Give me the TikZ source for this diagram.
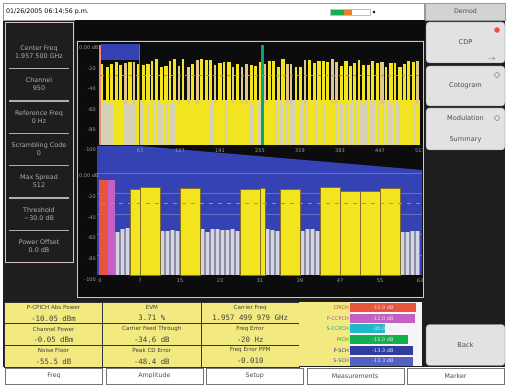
\documentclass[tikz,border=0pt]{standalone}
\usepackage{fontspec}
\setmainfont{DejaVu Sans}
\setmonofont{DejaVu Sans Mono}
\usetikzlibrary{positioning}
\definecolor{saDark}{RGB}{30,30,30}
\definecolor{saBlack}{RGB}{12,12,12}
\definecolor{saFrame}{RGB}{215,195,195}
\definecolor{saText}{RGB}{175,175,175}
\definecolor{saKey}{RGB}{226,226,226}
\definecolor{saYellow}{RGB}{242,228,30}
\definecolor{saPale}{RGB}{242,234,128}
\definecolor{saTan}{RGB}{224,200,140}
\definecolor{saBeige}{RGB}{214,208,180}
\definecolor{saGray}{RGB}{212,212,226}
\definecolor{saGap}{RGB}{140,140,165}
\definecolor{saBlue}{RGB}{52,66,180}
\definecolor{saGrid}{RGB}{100,112,200}
\definecolor{saRed}{RGB}{232,84,60}
\definecolor{saMag}{RGB}{196,96,196}
\definecolor{saCyan}{RGB}{32,184,200}
\definecolor{saGreen}{RGB}{20,176,80}
\definecolor{saNavy}{RGB}{48,60,160}
\definecolor{saPurple}{RGB}{84,96,196}
\definecolor{saOrange}{RGB}{230,130,40}
\definecolor{saOlive}{RGB}{130,110,40}
\definecolor{saTeal}{RGB}{16,160,120}
\tikzset{
    base/.style={font=\sffamily, align=center, inner sep=0pt},
    param/.style={base, font=\fontsize{6.4}{8}\selectfont, text=saText},
    axis/.style={base, font=\fontsize{5}{6}\selectfont, text=gray!75},
    cell/.style={draw=black!80, fill=saPale, line width=0.8pt, minimum width=98.3pt,
                 minimum height=21.5pt, inner sep=0pt, anchor=north west},
    cellname/.style={base, font=\fontsize{5.6}{6.5}\selectfont, text=black!75},
    cellval/.style={base, font=\ttfamily\fontsize{7.4}{8}\selectfont, text=black!75},
    softkey/.style={base, rectangle, rounded corners=3pt, draw=black!60, fill=saKey,
                    minimum width=79pt, font=\fontsize{6.6}{7.5}\selectfont, text=black!70},
    tab/.style={base, draw=black!55, fill=white, minimum width=97pt, minimum height=15.5pt,
                font=\fontsize{6.3}{7}\selectfont, text=black!70},
    chan/.style={base, anchor=east, font=\fontsize{5}{6}\selectfont},
    bartxt/.style={base, font=\fontsize{5}{6}\selectfont, text=white!80!gray},
    ybar/.style={fill=saYellow, draw=saOlive, line width=0.5pt}
}
\begin{document}
\begin{tikzpicture}[x=1pt, y=-1pt]
  \useasboundingbox (0,0) rectangle (506,387);
  \fill[white] (0,0) rectangle (506,387);

  % screen and title bar
  \fill[saDark] (3,20) rectangle (505,367);
  \draw[black!40, fill=white] (3,3) rectangle (424,20);
  \node[base, anchor=west, font=\fontsize{6.3}{7}\selectfont] (stamp) at (6,11.5) {01/26/2005 06:14:56 p.m.};
  \fill[saGreen] (330,9) rectangle (346,15);
  \fill[saOrange] (344,9) rectangle (352,15);
  \draw[black!25] (330,9) rectangle (370,15);
  \fill[black] (374,12) circle (1.3pt);

  % setup parameters
  \draw[saFrame, line width=0.8pt] (5,22) rectangle (73,262);
  \foreach \txt/\val [count=\i] in {Center Freq/1.957 500 GHz, Channel/950, Reference Freq/0 Hz,
      Scrambling Code/0, Max Spread/512, Threshold/−30.0 dB, Power Offset/0.0 dB}
    \node[param] (par\i) at (39,20+32.3*\i) {\txt\\\val};
  \foreach \i in {1,...,6}
    \draw[saText, line width=1.2pt] (9,36.5+32.3*\i) -- (69,36.5+32.3*\i);

  % plot frame
  \fill[saBlack] (75,20) rectangle (425,40);
  \draw[saFrame, fill=saBlack, line width=1pt] (77,42) rectangle (423,298);

  % upper trace, all 512 codes
  \pgfmathsetseed{26}
  \foreach \i in {0,...,127} {
    \pgfmathtruncatemacro\p{100*round(0.1+rnd)}
    \fill[saYellow!\p!saBeige] (100+2.5*\i,100) rectangle (102.5+2.5*\i,145);
  }
  \fill[saBlue] (101,44) rectangle (140,60);
  \foreach \i in {0,...,70} {
    \pgfmathsetmacro\bx{101+4.5*\i}
    \pgfmathsetmacro\bw{2.3+1.6*rnd}
    \pgfmathsetmacro\bt{59+8*rnd}
    \pgfmathtruncatemacro\p{100*round(0.3+rnd)}
    \fill[saYellow!\p!saTan] (\bx,\bt) rectangle (\bx+\bw,104);
  }
  \draw[saRed!70!white, line width=1.2pt] (100,45) -- (100,145);
  \draw[saTeal, line width=0.8pt] (139,45) -- (139,145);
  \fill[saTeal] (261,45) rectangle (264,145);
  \draw[saOrange, line width=0.7pt, dash pattern=on 3pt off 4pt] (101,75) -- (421,75);
  \node[axis, anchor=west] (up0) at (79,48) {0.00 dB};
  \foreach \v [count=\i] in {-20,-40,-60,-80,-100}
    \node[axis, anchor=east] (up\i) at (96,48+20.4*\i) {\v};

  % lower trace, codes 0 to 63
  \fill[saBlue] (97,146) -- (140,146) -- (422,170) -- (422,275) -- (97,275) -- cycle;
  \foreach \k in {0,...,4}
    \draw[saGrid, line width=0.6pt] (97,173+20.5*\k) -- (422,173+20.5*\k);
  \foreach \v [count=\i] in {63,127,191,255,319,383,447,511}
    \node[axis] (upx\i) at (100+40*\i,151) {\v};
  \fill[saRed] (99,180) rectangle (108,275);
  \fill[saMag] (108,180) rectangle (115,275);
  \foreach \c in {3,4,5,12,13,14,15,20,21,22,23,24,25,26,27,33,34,35,40,41,42,43,60,61,62,63} {
    \pgfmathsetmacro\gt{228+4*rnd}
    \fill[saGap] (100+5*\c,\gt) rectangle (105+5*\c,275);
    \fill[saGray] (100.8+5*\c,\gt) rectangle (104.2+5*\c,275);
  }
  \foreach \xa/\xb/\yt in {130/140/189, 140/160/187, 180/200/188, 240/260/189, 260/265/188,
      280/300/189, 320/340/187, 340/360/191, 360/380/191, 380/400/188}
    \draw[ybar] (\xa,\yt) rectangle (\xb,275);
  \draw[saOrange, line width=0.8pt, dash pattern=on 4pt off 5pt] (101,203) -- (421,203);
  \node[axis, anchor=west] (lo0) at (79,176) {0.00 dB};
  \foreach \v [count=\i] in {-20,-40,-60,-80,-100}
    \node[axis, anchor=east] (lo\i) at (96,176+20.7*\i) {\v};
  \foreach \v [count=\i] in {0,7,15,23,31,39,47,55,63}
    \node[axis] (lox\i) at (60+40*\i,281) {\v};

  % measurement results
  \foreach \name/\val [count=\i from 0] in {P-CPICH Abs Power/-10.05 dBm, Channel Power/-0.05 dBm,
      Noise Floor/-55.5 dB, EVM/3.71 \%, Carrier Feed Through/-34.6 dB, Peak CD Error/-48.4 dB,
      Carrier Freq/1.957 499 979 GHz, Freq Error/-20 Hz, Freq Error PPM/-0.010} {
    \pgfmathtruncatemacro\col{int(\i/3)}
    \pgfmathtruncatemacro\row{mod(\i,3)}
    \node[cell] (res\i) at (4+98.3*\col,302+21.5*\row) {};
    \node[cellname] (resname\i) at ([yshift=-5.5pt]res\i.north) {\name};
    \node[cellval] (resval\i) at ([yshift=6pt]res\i.south) {\val};
  }

  % channel powers
  \fill[saPale] (299,302) rectangle (350,366);
  \fill[white!92!gray] (350,302) rectangle (422,366);
  \foreach \ch/\clr/\len/\val [count=\i from 0] in {CPICH/saRed/66/-10.0 dB, P-CCPCH/saMag/65/-12.0 dB,
      S-CCPCH/saCyan/35/-30.0 dB, PICH/saGreen/58/-15.0 dB, P-SCH/saNavy/63/-13.3 dB,
      S-SCH/saPurple/63/-13.3 dB} {
    \fill[\clr] (350,303+10.7*\i) rectangle ++(\len,9);
    \node[chan, text=\clr!85!black] (ch\i) at (349,307.5+10.7*\i) {\ch};
    \node[bartxt] (chval\i) at (383,307.5+10.7*\i) {\val};
  }

  % soft keys
  \node[base, draw=black!40, fill=saKey!85!gray, minimum width=80pt, minimum height=17pt,
        font=\fontsize{6.3}{7}\selectfont, text=black!70] (demod) at (465.5,11.5) {Demod};
  \node[softkey, minimum height=41pt] (cdp) at (465.5,42.5) {CDP};
  \node[softkey, minimum height=40pt] (cotogram) at (465.5,86) {Cotogram};
  \node[softkey, minimum height=42pt] (modsum) at (465.5,129) {Modulation\\[14pt]Summary};
  \node[softkey, minimum height=41pt] (back) at (465.5,345) {Back};
  \fill[saRed] (497,30) circle (2.8pt);
  \draw[black!60] (497,75) circle (2.5pt);
  \draw[black!60] (497,118) circle (2.5pt);
  \node[base, font=\fontsize{5}{6}\selectfont, text=black!70] (cdpmore) at (492,59) {{-}{-}>};
  \node[base, font=\fontsize{5}{6}\selectfont, text=saText] (backmore) at (433,362) {{-} {-}};

  % menu tabs
  \foreach \t [count=\i from 0] in {Freq,Amplitude,Setup,Measurements,Marker}
    \node[tab] (tab\i) at (54+100.4*\i,376) {\t};
\end{tikzpicture}
\end{document}
